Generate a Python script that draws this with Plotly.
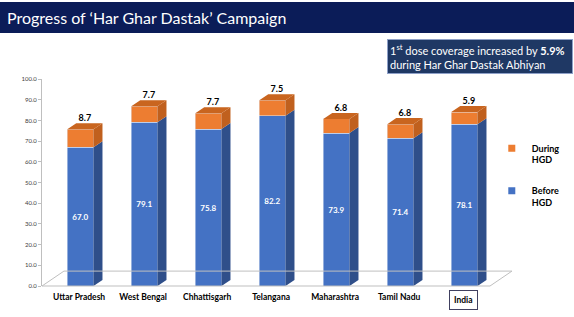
import plotly.graph_objects as go

categories = ["Uttar Pradesh", "West Bengal", "Chhattisgarh", "Telangana", "Maharashtra", "Tamil Nadu", "India"]
before_hgd = [67.0, 79.1, 75.8, 82.2, 73.9, 71.4, 78.1]
during_hgd = [8.7, 7.7, 7.7, 7.5, 6.8, 6.8, 5.9]
y_ticks = [0, 10, 20, 30, 40, 50, 60, 70, 80, 90, 100]

FONT = "Lato"
BLUE, BLUE_SIDE = "#4472C4", "#2F4F8A"
ORANGE, ORANGE_SIDE, ORANGE_TOP = "#ED7D31", "#C0601E", "#C9651F"

xs = list(range(len(categories)))
off = 0.02          # bar offset from its label (perspective)
w = 0.41            # front face width (x units)
dx, dy = 0.14, 2.9  # 3D depth in data units

fig = go.Figure()

def polys(faces):
    px, py = [], []
    for f in faces:
        for (a, b) in f:
            px.append(a); py.append(b)
        px.append(f[0][0]); py.append(f[0][1])
        px.append(None); py.append(None)
    return px, py

xb = [x + off for x in xs]
tops = [b + d for b, d in zip(before_hgd, during_hgd)]

side_blue, side_or, top_or = [], [], []
for x, b, t in zip(xb, before_hgd, tops):
    r = x + w / 2
    side_blue.append([(r, 0), (r + dx, dy), (r + dx, b + dy), (r, b)])
    side_or.append([(r, b), (r + dx, b + dy), (r + dx, t + dy), (r, t)])
    l = x - w / 2
    top_or.append([(l, t), (l + dx, t + dy), (r + dx, t + dy), (r, t)])

fig.add_trace(go.Bar(x=xb, y=before_hgd, name="Before HGD", marker_color=BLUE,
                     width=w, texttemplate="%{y:.1f}", textposition="inside",
                     insidetextanchor="middle",
                     textfont=dict(color="white", size=8, family=FONT, weight="bold"),
                     showlegend=False, hoverinfo="skip"))
fig.add_trace(go.Bar(x=xb, y=during_hgd, name="During HGD", marker_color=ORANGE,
                     width=w, showlegend=False, hoverinfo="skip"))

for faces, col in [(side_blue, BLUE_SIDE), (side_or, ORANGE_SIDE), (top_or, ORANGE_TOP)]:
    px, py = polys(faces)
    fig.add_trace(go.Scatter(x=px, y=py, fill="toself", fillcolor=col, mode="lines",
                             line=dict(width=0, color=col), showlegend=False,
                             hoverinfo="skip"))

fig.add_trace(go.Scatter(x=[x + dx / 2 for x in xb], y=[t + dy for t in tops],
                         mode="text", text=[f"{d:.1f}" for d in during_hgd],
                         textposition="top center",
                         textfont=dict(size=9, color="black", family=FONT, weight="bold"),
                         showlegend=False, hoverinfo="skip"))

# legend entries
fig.add_trace(go.Scatter(x=[None], y=[None], mode="markers", name="During<br>HGD",
                         marker=dict(symbol="square", size=7, color=ORANGE),
                         legendgroup="a", legendrank=1))
fig.add_trace(go.Scatter(x=[None], y=[None], mode="markers", name="Before<br>HGD",
                         marker=dict(symbol="square", size=7, color=BLUE),
                         legendgroup="b", legendrank=2))

fig.update_layout(
    width=574, height=317,
    margin=dict(l=42, r=84, t=79, b=31, autoexpand=False),
    barmode="stack",
    plot_bgcolor="white", paper_bgcolor="white",
    font=dict(family=FONT, color="#262626"),
    showlegend=True,
    legend=dict(x=1.004, y=0.725, xanchor="left", yanchor="top",
                traceorder="grouped", tracegroupgap=16, valign="top",
                font=dict(size=9, color="black", family=FONT, weight="bold"),
                bgcolor="rgba(0,0,0,0)"),
    xaxis=dict(range=[-0.58, 6.42], tickvals=xs[:-1], ticktext=categories[:-1], showgrid=False,
               zeroline=False, showline=False, ticks="", ticklabelstandoff=4,
               tickfont=dict(size=8.5, color="black", family=FONT, weight="bold"),
               fixedrange=True),
    yaxis=dict(range=[0, 100], tickvals=y_ticks, tickformat=".1f", showgrid=False,
               zeroline=False, showline=True, linecolor="#BFBFBF", linewidth=1,
               ticks="outside", ticklen=3, tickcolor="#BFBFBF",
               tickfont=dict(size=6, color="#404040", family=FONT), fixedrange=True),
    shapes=[
        # title bar
        dict(type="rect", xref="paper", yref="paper", x0=-0.1, x1=1.2,
             y0=1.222, y1=1.372, layer="above", line=dict(width=0), fillcolor="#0B1C58"),
        # floor
        dict(type="line", xref="x domain", yref="y domain", x0=0, y0=0, x1=1, y1=0,
             line=dict(color="#BFBFBF", width=1)),
        dict(type="line", xref="x domain", yref="y domain", x0=1, y0=0, x1=1.049, y1=0.072,
             line=dict(color="#BFBFBF", width=1)),
        dict(type="line", xref="x domain", yref="y domain", x0=0.049, y0=0.072, x1=1.049, y1=0.072,
             line=dict(color="#BFBFBF", width=1)),
        dict(type="line", xref="x domain", yref="y domain", x0=0, y0=0, x1=0.049, y1=0.072,
             line=dict(color="#BFBFBF", width=1)),
    ],
    annotations=[
        dict(text="Progress of ‘Har Ghar Dastak’ Campaign", xref="paper", yref="paper",
             x=-0.083, y=1.298, xanchor="left", yanchor="middle", showarrow=False,
             font=dict(size=16, color="white", family=FONT)),
        dict(text="1<sup>st</sup> dose coverage increased by <b>5.9%</b><br>during Har Ghar Dastak Abhiyan",
             xref="paper", yref="paper", x=0.77, y=1.025, xanchor="left", yanchor="bottom",
             showarrow=False, align="left", bgcolor="#1F3864", bordercolor="#8EA0C8",
             borderwidth=1, borderpad=2, width=180,
             font=dict(size=11, color="white", family=FONT)),
        dict(text="India", xref="x", yref="paper", x=6, y=-0.02, xanchor="center",
             yanchor="top", showarrow=False, bordercolor="#404060", borderwidth=1,
             borderpad=4, font=dict(size=8.5, color="black", family=FONT, weight="bold")),
    ],
)

fig.write_html("out.html")
